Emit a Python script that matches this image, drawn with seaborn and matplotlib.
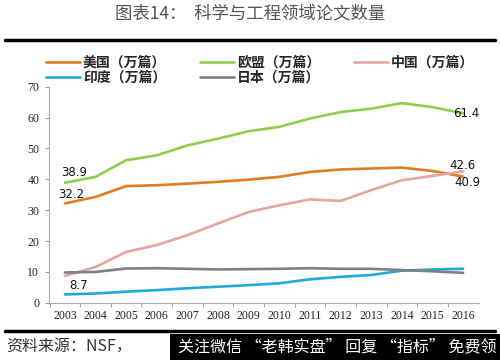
import matplotlib
matplotlib.use('Agg')
import matplotlib.pyplot as plt
import pandas as pd
import seaborn as sns

years = list(range(2003, 2017))
series_names = ['美国（万篇）', '欧盟（万篇）', '中国（万篇）', '印度（万篇）', '日本（万篇）']
usa = [32.2, 34.3, 37.8, 38.1, 38.6, 39.2, 39.9, 40.8, 42.4, 43.2, 43.5, 43.8, 42.7, 40.9]
eu = [38.9, 40.8, 46.2, 47.8, 51.0, 53.2, 55.6, 57.0, 59.7, 61.8, 62.9, 64.7, 63.4, 61.4]
china = [8.7, 11.6, 16.5, 18.7, 21.9, 25.7, 29.4, 31.6, 33.5, 33.0, 36.5, 39.7, 41.1, 42.6]
india = [2.7, 3.0, 3.6, 4.1, 4.7, 5.2, 5.7, 6.3, 7.6, 8.4, 9.0, 10.4, 10.8, 11.0]
japan = [9.8, 10.0, 11.1, 11.2, 11.0, 10.8, 10.9, 11.0, 11.2, 11.0, 11.0, 10.6, 10.2, 9.7]
colors = ['#E27B22', '#8ECF50', '#E6A7A2', '#1FA9D9', '#808080']

CJK = ['Noto Sans CJK SC', 'DejaVu Sans']

df = pd.concat([
    pd.DataFrame({'year': years, 'value': vals, 'series': name})
    for name, vals in zip(series_names, [usa, eu, china, india, japan])
])

sns.set_style('white')
plt.rcParams['font.family'] = CJK

fig = plt.figure(figsize=(5, 3.6), dpi=100)
ax = fig.add_axes([0.098, 0.159, 0.86, 0.60])
sns.lineplot(data=df, x='year', y='value', hue='series', hue_order=series_names,
             palette=dict(zip(series_names, colors)), linewidth=1.9, ax=ax, legend=False)

ax.set_xlim(years[0] - 0.52, years[-1] + 0.52)
ax.set_ylim(0, 70)
ax.set_yticks(range(0, 71, 10))
ax.set_xticks(years)
ax.set_xticks([y + 0.5 for y in years[:-1]] + [years[0] - 0.5], minor=True)
ax.tick_params(axis='x', which='major', length=0, pad=5)
ax.tick_params(axis='x', which='minor', length=3, direction='out', color='#999999', bottom=True)
ax.tick_params(axis='y', length=3, direction='out', color='#999999', left=True, pad=4)
for lab in ax.get_xticklabels() + ax.get_yticklabels():
    lab.set_fontfamily('Liberation Serif')
    lab.set_fontsize(8.5)
    lab.set_color('#222222')
ax.set_xlabel('')
ax.set_ylabel('')
for side in ['top', 'right']:
    ax.spines[side].set_visible(False)
for side in ['left', 'bottom']:
    ax.spines[side].set_color('#aaaaaa')
    ax.spines[side].set_linewidth(0.8)

# value labels at both ends
lab_kw = dict(textcoords='offset points', fontsize=8.5, color='#111111', family='DejaVu Sans')
ax.annotate(f'{eu[0]}', (years[0], eu[0]), xytext=(-3, 3), ha='left', va='bottom', **lab_kw)
ax.annotate(f'{usa[0]}', (years[0], usa[0]), xytext=(-5, 2), ha='left', va='bottom', **lab_kw)
ax.annotate(f'{china[0]}', (years[0], china[0]), xytext=(3, -2), ha='left', va='top', **lab_kw)
ax.annotate(f'{eu[-1]}', (years[-1], eu[-1]), xytext=(-7, 0), ha='left', va='center', **lab_kw)
ax.annotate(f'{china[-1]}', (years[-1], china[-1]), xytext=(-10, 4), ha='left', va='center', **lab_kw)
ax.annotate(f'{usa[-1]}', (years[-1], usa[-1]), xytext=(-6, -4), ha='left', va='center', **lab_kw)

# legend fills column-first, so reorder to get row-wise layout
order = [0, 3, 1, 4, 2]
handles = [plt.Line2D([], [], color=colors[i], linewidth=1.9) for i in order]
fig.legend(handles, [series_names[i] for i in order], loc='upper center',
           bbox_to_anchor=(0.52, 0.88), ncol=3,
           frameon=False, handlelength=2.5, handletextpad=0.2, columnspacing=2.4,
           labelspacing=0.1, prop={'family': CJK, 'weight': 'heavy', 'size': 10})

fig.text(0.5, 0.962, '图表14：  科学与工程领域论文数量', ha='center', va='center',
         fontsize=12.5, color='#555555', family=CJK)
fig.add_artist(plt.Line2D([0.01, 0.99], [0.888, 0.888], color='black', linewidth=2.5))
fig.add_artist(plt.Line2D([0.01, 0.99], [0.081, 0.081], color='black', linewidth=2.5))
fig.text(0.012, 0.038, '资料来源：NSF，', ha='left', va='center', fontsize=11.5,
         color='#333333', style='italic', family=CJK)
fig.add_artist(plt.Rectangle((0.34, 0.0), 0.66, 0.072, transform=fig.transFigure,
                             facecolor='black', edgecolor='none'))
fig.text(0.355, 0.036, '关注微信 “老韩实盘” 回复 “指标” 免费领', ha='left', va='center',
         fontsize=11.5, color='white', family=CJK)

fig.savefig('out.png', dpi=100)
